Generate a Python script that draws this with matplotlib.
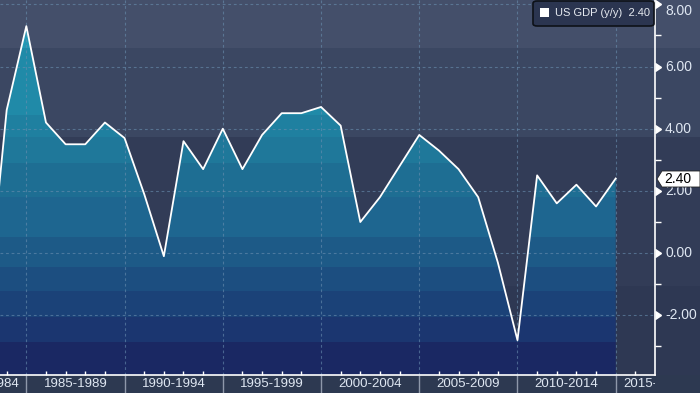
import matplotlib
matplotlib.use("Agg")
import matplotlib.pyplot as plt
import numpy as np
from matplotlib.patches import FancyBboxPatch, Polygon, Rectangle
from matplotlib.transforms import Bbox, TransformedBbox, blended_transform_factory
from matplotlib.colors import to_rgb

plt.rcParams['font.family'] = ['Liberation Sans', 'DejaVu Sans']

# annual US GDP y/y, each year plotted at its year end
years = [1982, 1983, 1984, 1985, 1986, 1987, 1988, 1989, 1990, 1991, 1992, 1993,
         1994, 1995, 1996, 1997, 1998, 1999, 2000, 2001, 2002, 2003, 2004, 2005,
         2006, 2007, 2008, 2009, 2010, 2011, 2012, 2013, 2014]
gdp = [-1.8, 4.6, 7.3, 4.2, 3.5, 3.5, 4.2, 3.7, 1.9, -0.1, 3.6, 2.7,
       4.0, 2.7, 3.8, 4.5, 4.5, 4.7, 4.1, 1.0, 1.8, 2.8, 3.8, 3.3,
       2.7, 1.8, -0.3, -2.8, 2.5, 1.6, 2.2, 1.5, 2.4]
period_labels = ['1980-1984', '1985-1989', '1990-1994', '1995-1999', '2000-2004',
                 '2005-2009', '2010-2014', '2015-2019']
period_starts = [1980, 1985, 1990, 1995, 2000, 2005, 2010, 2015]
ytick_vals = [-2, 0, 2, 4, 6, 8]
last_value = 2.40
legend_label = 'US GDP (y/y)'

W, H = 700, 393
fig = plt.figure(figsize=(W / 100, H / 100), dpi=100)
fig.patch.set_facecolor('#2e3853')

def fx(x):
    return x / W

def fy(y):
    return 1 - y / H

# background bands behind the whole figure
bg = fig.add_axes([0, 0, 1, 1])
bg.set_xlim(0, W)
bg.set_ylim(H, 0)
bg.axis('off')
for top, bot, c in [(0, 48, '#444f6a'), (48, 137, '#3b4762'), (137, 286, '#323c57'),
                    (286, 375, '#2e3853'), (375, H, '#2d3951')]:
    bg.add_patch(Rectangle((0, top), W, bot - top, color=c, lw=0))

ax = fig.add_axes([0, fy(375), fx(655), fy(0) - fy(375)])
ax.patch.set_alpha(0)
ymin, ymax = -3.92, 8.14
xmin, xmax = 1983.66, 2017.0
ax.set_xlim(xmin, xmax)
ax.set_ylim(ymin, ymax)

xs = np.array(years) + 1.0
vals = np.array(gdp)

# gradient fill under the line, made of flat colour steps
band_edges = [8.2, 6.6, 4.44, 3.74, 2.9, 1.81, 0.52, -0.44, -1.22, -2.05, -2.86, -4.0]
band_cols = ['#2398b4', '#208aa8', '#1f80a0', '#1f789a', '#1e6e93', '#1e6690',
             '#1d5a87', '#1c4e80', '#1b4278', '#1b3670', '#1a2863']
rows = 800
yy = np.linspace(ymax, ymin, rows)
img = np.zeros((rows, 1, 3))
for i, v in enumerate(yy):
    for k in range(len(band_cols)):
        if band_edges[k] >= v > band_edges[k + 1]:
            img[i, 0] = to_rgb(band_cols[k])
            break
    else:
        img[i, 0] = to_rgb(band_cols[-1])
poly = ax.fill_between(xs, vals, ymin, facecolor='none', edgecolor='none')
im = ax.imshow(img, extent=[xs[0], xs[-1], ymin, ymax], aspect='auto',
               interpolation='nearest', zorder=1)
im.set_clip_path(poly.get_paths()[0], transform=ax.transData)

# grid
for v in ytick_vals:
    ax.axhline(v, color='#6a8fb0', alpha=0.6, lw=0.8, ls=(0, (2.5, 2.5)), zorder=2)
for s in period_starts[1:]:
    ax.axvline(s, color='#6a8fb0', alpha=0.6, lw=0.8, ls=(0, (2.5, 2.5)), zorder=2)

ax.plot(xs, vals, color='white', lw=1.3, zorder=3)

# spines and ticks
for side in ['top', 'left']:
    ax.spines[side].set_visible(False)
ax.spines['bottom'].set_color('white')
ax.spines['right'].set_color('white')
ax.spines['bottom'].set_linewidth(1.2)
ax.spines['right'].set_linewidth(1.2)

ax.set_xticks(period_starts[1:])
ax.set_xticks([y for y in range(1984, 2017) if y % 5 != 0], minor=True)
ax.tick_params(axis='x', which='major', direction='out', length=18, color='#8e98aa',
               width=1, labelbottom=False)
ax.tick_params(axis='x', which='minor', direction='in', length=3, color='white', width=1)
ax.yaxis.tick_right()
ax.set_yticks(ytick_vals)
ax.set_yticks([-3, -1, 1, 3, 5, 7], minor=True)
ax.tick_params(axis='y', which='major', length=0, labelright=False)
ax.tick_params(axis='y', which='minor', direction='out', length=4, color='white', width=1)

ytrans = blended_transform_factory(ax.transAxes, ax.transData)
ax.plot([1.0] * len(ytick_vals), ytick_vals, transform=ytrans, ls='none', marker=9,
        ms=6, color='white', clip_on=False, zorder=5)

lab_col = '#dfe7f2'
for v in ytick_vals:
    if v == 8:
        ax.text(fx(665) / fx(655), v, '%.2f' % v, transform=ytrans, color=lab_col,
                fontsize=10, va='top', ha='left', clip_on=False)
    else:
        ax.text(fx(665) / fx(655), v, '%.2f' % v, transform=ytrans, color=lab_col,
                fontsize=10, va='center', ha='left', clip_on=False)

# period labels under the axis, clipped at the right spine
clipbox = TransformedBbox(Bbox([[0, 0], [fx(655), 1]]), fig.transFigure)
xtrans = blended_transform_factory(ax.transData, fig.transFigure)
for lab, s in zip(period_labels, period_starts):
    if s == period_starts[0]:
        t = ax.text(s + 4.68, fy(384), lab, transform=xtrans, ha='right', va='center',
                    color=lab_col, fontsize=9.5)
    elif s == period_starts[-1]:
        t = ax.text(s + 0.4, fy(384), lab, transform=xtrans, ha='left', va='center',
                    color=lab_col, fontsize=9.5)
    else:
        t = ax.text(s + 2.5, fy(384), lab, transform=xtrans, ha='center', va='center',
                    color=lab_col, fontsize=9.5)
    t.set_clip_on(True)
    t.set_clip_box(clipbox)

# last value callout
pts = [(657, 179), (662, 171), (700, 171), (700, 187), (662, 187)]
fig.patches.append(Polygon([(fx(a), fy(b)) for a, b in pts], closed=True,
                           transform=fig.transFigure, facecolor='white',
                           edgecolor='#222222', lw=0.6, zorder=10))
fig.text(fx(664), fy(179), '%.2f' % last_value, color='black', fontsize=10,
         va='center', ha='left', zorder=11)

# legend box
fig.patches.append(FancyBboxPatch((fx(533), fy(26)), fx(654) - fx(533), fy(1) - fy(26),
                                  boxstyle='round,pad=0,rounding_size=0.006',
                                  transform=fig.transFigure, facecolor='#2b3550',
                                  edgecolor='#0d1118', lw=1.2, zorder=10))
fig.patches.append(Rectangle((fx(540), fy(17)), fx(549) - fx(540), fy(8) - fy(17),
                             transform=fig.transFigure, facecolor='white',
                             edgecolor='none', zorder=11))
fig.text(fx(555), fy(13), '%s  %.2f' % (legend_label, last_value), color='#e6eaf0',
         fontsize=8, va='center', ha='left', zorder=11)

fig.savefig('out.png', dpi=100, facecolor=fig.get_facecolor())
